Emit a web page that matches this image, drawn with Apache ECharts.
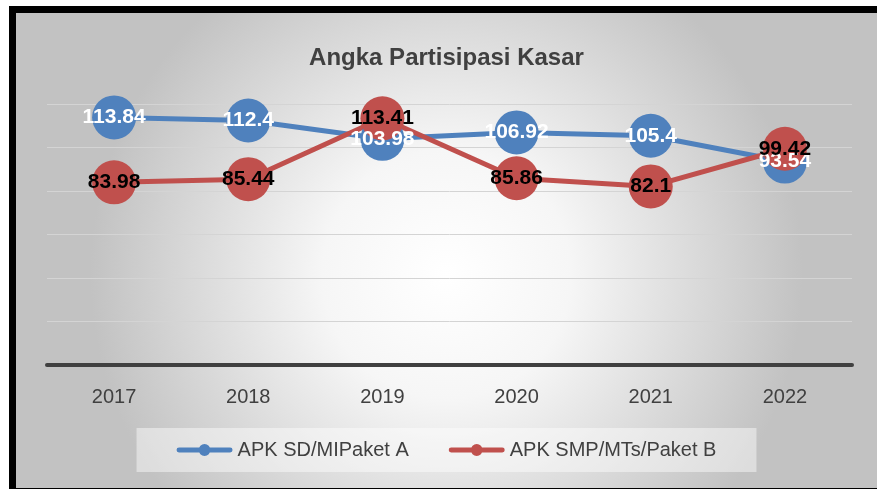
<!DOCTYPE html>
<html>
<head>
<meta charset="utf-8">
<script src="https://cdn.jsdelivr.net/npm/echarts@6/dist/echarts.min.js"></script>
<style>
  html, body { margin: 0; padding: 0; background: #fff; }
  #frame { position: absolute; left: 9px; top: 6px; width: 868px; height: 483px; background: #000; }
  #main { position: absolute; left: 7px; top: 7px; width: 861px; height: 475px; }
</style>
</head>
<body>
<div id="frame"><div id="main"></div></div>
<script>
// data
var years = ['2017', '2018', '2019', '2020', '2021', '2022'];
var apkSD = [113.84, 112.4, 103.98, 106.92, 105.4, 93.54];
var apkSMP = [83.98, 85.44, 113.41, 85.86, 82.1, 99.42];
var seriesNames = ['APK SD/MIPaket A', 'APK SMP/MTs/Paket B'];

var font = '"Liberation Sans Narrow", "Liberation Sans", sans-serif';
// legend icon: thick rounded bar with a dot in the middle
var legendIcon = 'path://M2,4.5H54A2.5,2.5 0 0 1 54,9.5H2A2.5,2.5 0 0 1 2,4.5Z' +
    'M22,7A6,6 0 1 1 34,7A6,6 0 1 1 22,7Z';
var chart = echarts.init(document.getElementById('main'));

function lineSeries(name, data, color, labelColor) {
    return {
        name: name,
        type: 'line',
        data: data,
        symbol: 'circle',
        symbolSize: 44,
        itemStyle: { color: color },
        lineStyle: { color: color, width: 5 },
        label: {
            show: true,
            position: 'inside',
            color: labelColor,
            fontSize: 21,
            fontWeight: 'bold',
            fontFamily: '"Liberation Sans", sans-serif'
        },
        emphasis: { disabled: true }
    };
}

var option = {
    animation: false,
    backgroundColor: new echarts.graphic.RadialGradient(0.5, 0.55, 0.75, [
        { offset: 0, color: '#ffffff' },
        { offset: 0.35, color: '#f6f6f6' },
        { offset: 1, color: '#c2c2c2' }
    ]),
    title: {
        text: 'Angka Partisipasi Kasar',
        left: 'center',
        top: 28,
        textStyle: { color: '#404040', fontSize: 24, fontWeight: 'bold', fontFamily: font }
    },
    grid: { left: 31, right: 25, top: 91, bottom: 123 },
    legend: {
        bottom: 16,
        left: 'center',
        icon: legendIcon,
        itemWidth: 56,
        itemHeight: 14,
        itemGap: 40,
        padding: [12, 40, 12, 40],
        backgroundColor: 'rgba(255,255,255,0.45)',
        textStyle: { color: '#404040', fontSize: 20, fontFamily: font },
        data: seriesNames
    },
    xAxis: {
        type: 'category',
        data: years,
        axisLine: { lineStyle: { color: '#404040', width: 4 } },
        axisTick: { show: false },
        axisLabel: { color: '#404040', fontSize: 20, margin: 22, fontFamily: font }
    },
    yAxis: {
        type: 'value',
        min: 0,
        max: 120,
        interval: 20,
        axisLabel: { show: false },
        axisLine: { show: false },
        axisTick: { show: false },
        splitLine: { lineStyle: { color: '#d4d4d4', width: 1 } }
    },
    series: [
        lineSeries(seriesNames[0], apkSD, '#4f81bd', '#ffffff'),
        lineSeries(seriesNames[1], apkSMP, '#c0504d', '#000000')
    ]
};
chart.setOption(option);
</script>
</body>
</html>
